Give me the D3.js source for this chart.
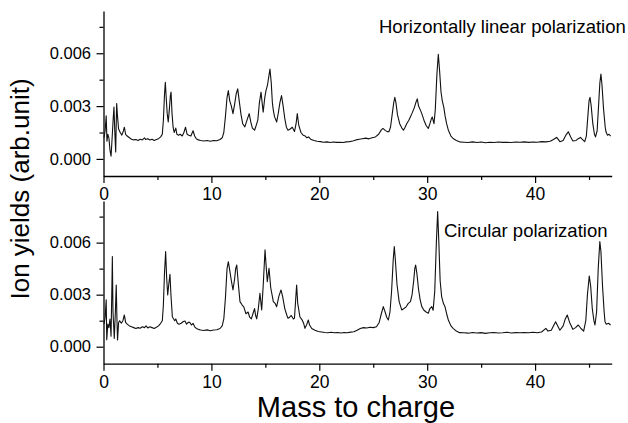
<!DOCTYPE html>
<html><head><meta charset="utf-8">
<script src="https://cdn.jsdelivr.net/npm/d3@7"></script>
<style>body{margin:0;background:#fff;} text{font-family:"Liberation Sans",Arial,sans-serif;fill:#000;}</style>
</head><body>
<svg id="c" width="628" height="423"></svg>
<script>
// Mass-to-charge positions and ion yields (arb. unit)
const massTop = [0.05,0.15,0.25,0.32,0.4,0.5,0.6,0.7,0.8,0.9,0.97,1.05,1.13,1.18,1.22,1.3,1.4,1.55,1.7,1.85,1.93,2.05,2.2,2.4,2.6,2.8,3.0,3.2,3.4,3.6,3.8,3.9,4.1,4.3,4.5,4.7,4.9,5.1,5.3,5.45,5.55,5.65,5.73,5.8,5.9,6.0,6.1,6.2,6.26,6.35,6.45,6.55,6.7,6.8,6.95,7.1,7.3,7.45,7.6,7.75,7.9,8.1,8.3,8.45,8.6,8.8,9.0,9.3,9.6,9.9,10.2,10.5,10.8,11.0,11.15,11.3,11.45,11.57,11.7,11.85,12.0,12.15,12.3,12.44,12.6,12.75,12.9,13.1,13.3,13.5,13.65,13.8,14.0,14.15,14.3,14.45,14.6,14.7,14.8,14.95,15.06,15.2,15.35,15.43,15.55,15.65,15.74,15.85,16.05,16.2,16.35,16.5,16.65,16.8,16.95,17.1,17.3,17.5,17.7,17.85,17.96,18.1,18.3,18.5,18.7,18.85,19.0,19.2,19.5,19.8,20.1,20.4,20.7,21.0,21.3,21.6,21.9,22.2,22.5,22.8,23.1,23.4,23.7,24.0,24.3,24.6,24.9,25.2,25.5,25.75,25.9,26.1,26.3,26.45,26.6,26.75,26.9,27.0,27.1,27.25,27.45,27.65,27.8,27.95,28.1,28.3,28.45,28.6,28.8,28.95,29.08,29.2,29.35,29.5,29.7,29.9,30.1,30.25,30.4,30.47,30.63,30.75,30.9,31.03,31.15,31.28,31.4,31.55,31.65,31.8,31.96,32.2,32.4,32.7,33.0,33.4,33.8,34.2,34.6,35.0,35.4,35.8,36.2,36.6,37.0,37.4,37.8,38.2,38.6,39.0,39.4,39.8,40.2,40.6,41.0,41.4,41.7,42.0,42.3,42.6,42.85,43.08,43.3,43.5,43.8,44.0,44.2,44.4,44.6,44.75,44.9,45.0,45.09,45.2,45.35,45.5,45.6,45.75,45.9,46.0,46.1,46.2,46.35,46.5,46.57,46.7,46.85,47.0];
const yieldTop = [1.2,1.6,2.45,1.0,1.4,1.2,0.5,0.15,1.2,2.3,2.95,1.5,0.4,2.0,3.15,2.4,1.7,1.5,1.35,1.6,1.8,1.4,1.3,1.2,1.12,1.08,1.1,1.05,1.12,1.08,1.2,1.1,1.15,1.08,1.12,1.05,1.1,1.15,1.25,1.4,2.2,3.6,4.35,3.6,2.6,2.1,2.8,3.6,3.8,2.6,1.8,1.5,1.75,1.4,1.35,1.4,1.3,1.5,1.8,1.4,1.35,1.3,1.6,1.3,1.15,1.08,1.05,1.02,1.05,1.0,1.05,1.03,1.1,1.2,1.5,2.4,3.5,3.88,3.3,3.0,2.57,3.1,3.7,3.98,3.2,2.5,2.0,1.82,2.2,2.57,2.1,1.75,1.63,1.9,2.2,3.2,3.79,3.2,2.66,3.5,3.88,4.2,4.8,5.1,4.3,3.2,2.76,2.4,2.1,2.6,3.2,3.6,3.0,2.3,1.8,1.63,1.7,1.8,1.55,2.0,2.57,1.9,1.5,1.35,1.3,1.2,1.25,1.12,1.05,1.0,0.98,0.95,0.97,0.93,0.96,0.94,0.95,0.93,0.97,0.98,1.02,1.08,1.12,1.15,1.18,1.14,1.2,1.25,1.4,1.65,1.73,1.62,1.55,1.54,1.8,2.5,3.2,3.5,3.2,2.5,2.0,1.75,1.63,1.8,2.0,2.2,2.4,2.6,2.9,3.2,3.41,3.0,2.8,2.57,2.2,1.9,1.73,2.0,2.3,2.38,2.0,2.8,4.8,5.94,5.0,3.8,3.3,2.9,2.47,2.0,1.63,1.3,1.16,1.05,0.97,0.95,0.93,0.97,0.93,0.96,0.92,0.95,0.93,0.96,0.94,0.95,0.93,0.96,0.95,0.97,0.94,0.96,0.95,0.98,0.97,1.0,1.1,1.22,0.98,1.05,1.35,1.54,1.25,1.02,1.05,1.15,1.22,1.1,0.98,1.3,2.5,3.3,3.5,3.0,2.0,1.4,1.25,1.6,3.2,4.3,4.82,4.2,2.8,1.8,1.54,1.35,1.4,1.29];
const massBottom = [0.05,0.15,0.25,0.3,0.4,0.5,0.6,0.7,0.78,0.82,0.88,1.0,1.1,1.18,1.25,1.3,1.4,1.5,1.65,1.8,1.93,2.05,2.2,2.4,2.6,2.8,3.0,3.2,3.4,3.6,3.8,3.95,4.1,4.3,4.5,4.7,4.9,5.1,5.3,5.45,5.55,5.65,5.76,5.85,5.95,6.05,6.16,6.25,6.38,6.5,6.6,6.7,6.85,7.0,7.2,7.4,7.55,7.7,7.85,8.0,8.15,8.3,8.45,8.6,8.8,9.0,9.3,9.6,9.9,10.2,10.5,10.8,11.0,11.15,11.3,11.45,11.57,11.7,11.85,12.0,12.15,12.25,12.35,12.5,12.65,12.85,13.0,13.2,13.4,13.55,13.7,13.85,14.0,14.1,14.2,14.35,14.5,14.66,14.8,14.97,15.08,15.18,15.34,15.5,15.74,15.9,16.05,16.25,16.45,16.6,16.8,17.0,17.1,17.25,17.4,17.6,17.7,17.82,17.9,18.0,18.2,18.4,18.55,18.67,18.85,18.98,19.1,19.3,19.6,19.9,20.2,20.5,20.8,21.1,21.4,21.7,22.0,22.3,22.6,22.9,23.2,23.5,23.8,24.1,24.4,24.7,25.0,25.3,25.55,25.75,25.93,26.1,26.25,26.4,26.55,26.7,26.85,26.95,27.05,27.2,27.4,27.64,27.85,28.05,28.25,28.45,28.6,28.75,28.85,28.93,29.05,29.2,29.35,29.5,29.7,29.9,30.1,30.25,30.42,30.55,30.7,30.85,30.97,31.08,31.2,31.34,31.5,31.65,31.8,31.96,32.2,32.4,32.7,33.0,33.4,33.8,34.2,34.6,35.0,35.4,35.8,36.2,36.6,37.0,37.4,37.8,38.2,38.6,39.0,39.4,39.8,40.2,40.6,41.0,41.2,41.5,41.9,42.3,42.6,42.8,42.98,43.2,43.5,43.75,44.0,44.25,44.5,44.7,44.85,45.02,45.15,45.3,45.45,45.55,45.7,45.85,46.0,46.1,46.25,46.4,46.48,46.6,46.8,47.0];
const yieldBottom = [1.3,1.7,2.7,0.4,1.3,1.1,1.6,0.6,3.5,5.2,2.0,0.48,2.0,3.56,1.5,0.39,1.4,1.5,1.35,1.5,1.83,1.4,1.3,1.2,1.15,1.1,1.05,1.1,1.06,1.15,1.1,1.2,1.08,1.15,1.1,1.05,1.12,1.2,1.35,1.5,2.4,4.2,5.48,4.0,2.98,3.6,4.18,3.0,1.73,1.6,1.5,1.6,1.35,1.3,1.35,1.45,1.48,1.3,1.4,1.4,1.25,1.35,1.15,1.05,1.0,0.96,0.93,0.97,0.92,0.96,0.98,1.05,1.2,1.6,2.8,4.5,4.9,4.4,3.8,3.27,3.9,4.5,4.71,3.6,2.6,2.4,2.3,1.9,2.0,1.7,1.6,1.9,2.2,1.8,1.6,2.2,3.08,2.12,3.5,5.58,4.6,3.75,4.52,3.4,2.6,2.5,2.31,2.9,3.27,2.9,2.2,1.8,1.64,1.7,1.8,1.6,1.65,2.8,3.56,2.5,1.73,1.55,1.35,1.06,1.3,1.54,1.25,1.05,0.95,0.88,0.85,0.82,0.8,0.83,0.8,0.82,0.79,0.82,0.8,0.84,0.86,0.95,1.05,1.1,1.08,1.12,1.1,1.15,1.4,1.9,2.31,2.0,1.7,1.54,2.0,3.2,5.0,5.77,5.0,3.6,2.6,2.12,2.2,2.3,2.5,2.6,3.0,3.8,4.5,4.71,4.2,3.3,2.7,2.31,2.1,2.0,1.93,2.2,2.31,2.1,3.2,6.0,7.79,6.0,3.8,2.89,2.5,2.31,1.9,1.54,1.2,1.06,0.9,0.81,0.8,0.78,0.82,0.79,0.81,0.77,0.8,0.82,0.79,0.8,0.83,0.79,0.81,0.8,0.82,0.8,0.83,0.8,0.85,1.06,0.9,0.95,1.44,0.95,1.2,1.6,1.83,1.4,1.0,1.1,1.25,1.05,0.9,1.5,3.0,4.08,3.5,2.2,1.5,1.25,2.0,4.5,6.06,5.5,3.5,2.0,1.44,1.3,1.35,1.25];
const xTicks = [0,10,20,30,40];
const xMinor = [5,15,25,35,45];
const yTicks = [0,0.003,0.006];
const yMinor = [-0.0015,0.0015,0.0045,0.0075];
const labelTop = "Horizontally linear polarization";
const labelBottom = "Circular polarization";
const xTitle = "Mass to charge";
const yTitle = "Ion yields (arb.unit)";

const svg = d3.select("#c");
const x = d3.scaleLinear().domain([0, 47.1]).range([103.5, 611.7]);
const panels = [
  {mass: massTop, vals: yieldTop, y: d3.scaleLinear().domain([-0.00097, 0.0084]).range([176, 11]), label: labelTop, lx: 379, ly: 33},
  {mass: massBottom, vals: yieldBottom, y: d3.scaleLinear().domain([-0.00098, 0.0084]).range([363.7, 201]), label: labelBottom, lx: 444, ly: 237}
];
const fmt = d3.format(".3f");
panels.forEach(p => {
  const y = p.y;
  const [y0, y1] = y.range();
  // x axis
  const gx = svg.append("g").attr("transform", `translate(0,${y0})`)
    .call(d3.axisBottom(x).tickValues(xTicks).tickSize(7).tickSizeOuter(0).tickFormat(d3.format("d")));
  gx.call(g => g.select(".domain").attr("stroke-width", 1.3));
  gx.selectAll(".tick line").attr("stroke-width", 1.2);
  gx.selectAll(".tick text").attr("font-size", 17.5).attr("dy", 0).attr("y", 24);
  svg.append("g").attr("transform", `translate(0,${y0})`)
    .call(d3.axisBottom(x).tickValues(xMinor).tickSize(4).tickFormat(""))
    .call(g => g.select(".domain").remove())
    .selectAll(".tick line").attr("stroke-width", 1.2);
  // y axis
  const gy = svg.append("g").attr("transform", `translate(${x(0)},0)`)
    .call(d3.axisLeft(y).tickValues(yTicks).tickSize(7).tickSizeOuter(0).tickFormat(fmt));
  gy.call(g => g.select(".domain").attr("stroke-width", 1.3));
  gy.selectAll(".tick line").attr("stroke-width", 1.2);
  gy.selectAll(".tick text").attr("font-size", 16.5).attr("x", -12.5);
  svg.append("g").attr("transform", `translate(${x(0)},0)`)
    .call(d3.axisLeft(y).tickValues(yMinor.filter(v => y(v) < y0 && y(v) > y1)).tickSize(4).tickFormat(""))
    .call(g => g.select(".domain").remove())
    .selectAll(".tick line").attr("stroke-width", 1.2);
  // data line
  const line = d3.line().x((d, i) => x(p.mass[i])).y(d => y(d / 1000));
  svg.append("path").datum(p.vals).attr("d", line)
    .attr("fill", "none").attr("stroke", "#111").attr("stroke-width", 1.1).attr("stroke-linejoin", "round");
  svg.append("text").attr("x", p.lx).attr("y", p.ly).attr("font-size", 18.5).text(p.label);
});
svg.append("text").attr("x", 356).attr("y", 417).attr("text-anchor", "middle").attr("font-size", 29).text(xTitle);
svg.append("text").attr("transform", "translate(29,189) rotate(-90)").attr("text-anchor", "middle").attr("font-size", 26).text(yTitle);
</script>
</body></html>
